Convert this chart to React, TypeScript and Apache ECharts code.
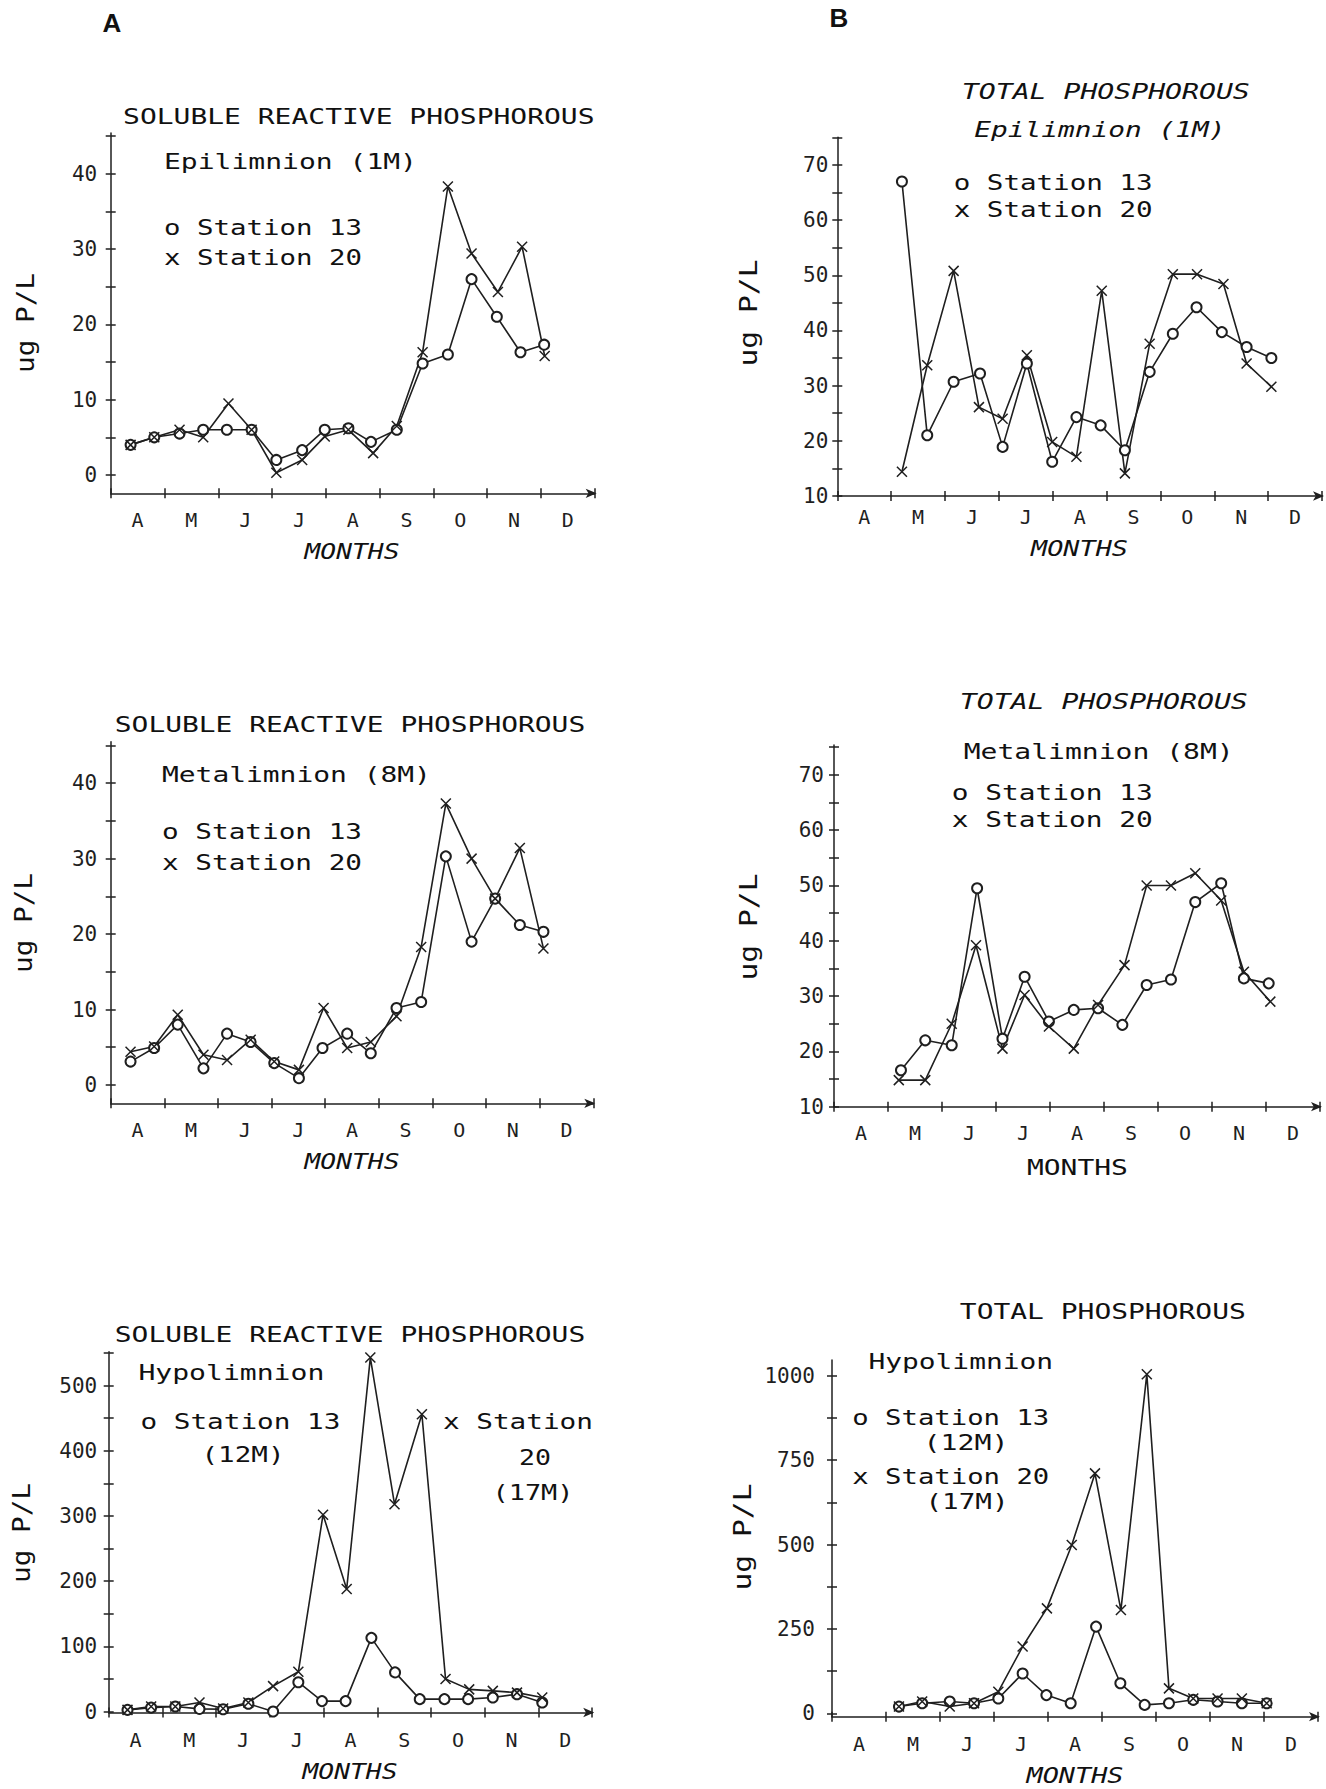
import React, { useEffect, useRef } from 'react';
import * as echarts from 'echarts';

// ---------- categories / ticks ----------
const months = ['A', 'M', 'J', 'J', 'A', 'S', 'O', 'N', 'D'];
const srpMajor = [0, 10, 20, 30, 40];
const srpMinor = [5, 15, 25, 35, 45];
const tpMajor = [10, 20, 30, 40, 50, 60, 70];
const tpMinor = [15, 25, 35, 45, 55, 65, 75];
const srpHypoMajor = [0, 100, 200, 300, 400, 500];
const srpHypoMinor = [50, 150, 250, 350, 450, 550];
const tpHypoMajor = [0, 250, 500, 750, 1000];
const tpHypoMinor = [125, 375, 625, 875];

// ---------- data (x = month position from start of April, y = ug P/L) ----------
// A1: Soluble reactive P, Epilimnion (1M)
const srpEpiX13 = [0.37, 0.81, 1.28, 1.72, 2.16, 2.62, 3.08, 3.56, 3.98, 4.42, 4.84, 5.32, 5.8, 6.27, 6.71, 7.18, 7.62, 8.06];
const srpEpi13 = [4, 5, 5.5, 6, 6, 6, 2, 3.3, 6, 6.2, 4.4, 6, 14.8, 16, 26, 21, 16.3, 17.3];
const srpEpiX20 = [0.37, 0.81, 1.28, 1.72, 2.19, 2.62, 3.08, 3.56, 3.98, 4.42, 4.88, 5.32, 5.8, 6.27, 6.71, 7.2, 7.65, 8.07];
const srpEpi20 = [4, 5, 6, 5, 9.5, 6, 0.3, 2, 5.1, 6, 2.9, 6.5, 16.3, 38.3, 29.4, 24.3, 30.3, 15.8];

// B1: Total P, Epilimnion (1M)
const tpEpiX13 = [1.2, 1.67, 2.16, 2.65, 3.07, 3.52, 3.99, 4.44, 4.89, 5.34, 5.8, 6.23, 6.67, 7.14, 7.6, 8.06];
const tpEpi13 = [67, 21, 30.7, 32.2, 18.9, 34, 16.2, 24.3, 22.8, 18.3, 32.5, 39.4, 44.2, 39.7, 37, 35];
const tpEpiX20 = [1.2, 1.67, 2.16, 2.63, 3.07, 3.52, 3.99, 4.44, 4.91, 5.34, 5.8, 6.23, 6.68, 7.17, 7.6, 8.06];
const tpEpi20 = [14.4, 33.7, 50.8, 26.1, 24, 35.5, 19.8, 17.1, 47.2, 14.1, 37.6, 50.2, 50.2, 48.4, 34, 29.8];

// A2: Soluble reactive P, Metalimnion (8M)
const srpMetX13 = [0.37, 0.81, 1.25, 1.73, 2.17, 2.61, 3.05, 3.51, 3.95, 4.41, 4.85, 5.33, 5.79, 6.25, 6.73, 7.17, 7.63, 8.07];
const srpMet13 = [3.1, 4.9, 8, 2.2, 6.8, 5.7, 2.9, 0.9, 4.9, 6.8, 4.2, 10.2, 11, 30.3, 19, 24.7, 21.2, 20.3];
const srpMetX20 = [0.37, 0.81, 1.25, 1.73, 2.17, 2.61, 3.05, 3.51, 3.97, 4.41, 4.85, 5.33, 5.79, 6.25, 6.73, 7.17, 7.63, 8.07];
const srpMet20 = [4.4, 5.1, 9.3, 4, 3.3, 6, 3.1, 2, 10.2, 4.9, 5.7, 9.1, 18.3, 37.3, 30, 24.7, 31.4, 18.1];

// B2: Total P, Metalimnion (8M)
const tpMetX13 = [1.24, 1.69, 2.18, 2.65, 3.12, 3.53, 3.98, 4.44, 4.89, 5.34, 5.79, 6.24, 6.69, 7.17, 7.59, 8.05];
const tpMet13 = [16.6, 22, 21.1, 49.5, 22.3, 33.5, 25.4, 27.5, 27.8, 24.8, 32, 33, 47, 50.4, 33.2, 32.3];
const tpMetX20 = [1.2, 1.69, 2.18, 2.63, 3.12, 3.53, 3.98, 4.44, 4.89, 5.38, 5.79, 6.24, 6.69, 7.17, 7.59, 8.08];
const tpMet20 = [14.8, 14.8, 25, 39.2, 20.5, 30.2, 24.5, 20.5, 28.4, 35.6, 50, 50, 52.2, 47.3, 34.4, 29];

// A3: Soluble reactive P, Hypolimnion
const srpHypX13 = [0.35, 0.79, 1.24, 1.69, 2.13, 2.6, 3.06, 3.53, 3.97, 4.41, 4.89, 5.33, 5.79, 6.25, 6.69, 7.15, 7.6, 8.07];
const srpHyp13 = [2.5, 6, 7.7, 4, 3.5, 12, 0, 45, 16, 16, 113, 60, 19, 19, 19, 21.5, 26.6, 13.8];
const srpHypX20 = [0.35, 0.79, 1.24, 1.69, 2.13, 2.6, 3.06, 3.53, 3.99, 4.43, 4.87, 5.32, 5.83, 6.27, 6.71, 7.15, 7.6, 8.07];
const srpHyp20 = [2.5, 7.7, 7.7, 13.8, 4.6, 13.8, 39, 61, 302, 188, 543, 318, 456, 50, 34, 31.7, 29, 21.5];

// B3: Total P, Hypolimnion
const tpHypX13 = [1.24, 1.67, 2.18, 2.63, 3.08, 3.53, 3.97, 4.42, 4.89, 5.34, 5.79, 6.24, 6.69, 7.14, 7.59, 8.05];
const tpHyp13 = [20, 30, 35, 30, 44, 118, 54, 30, 257, 89, 25, 30, 40, 35, 30, 30];
const tpHypX20 = [1.24, 1.67, 2.18, 2.63, 3.08, 3.53, 3.98, 4.44, 4.87, 5.35, 5.83, 6.24, 6.69, 7.14, 7.59, 8.05];
const tpHyp20 = [20, 35, 20, 30, 64, 198, 311, 499, 711, 306, 1005, 74, 44, 44, 44, 30];

// ---------- layout (positions / styles) ----------
const INK = '#1f1f1f';
const MONO = "'DejaVu Sans Mono', 'Liberation Mono', monospace";
const MONO_ADV = 0.602; // advance width of DejaVu Sans Mono, in em

type Panel = {
  left: number; top: number; width: number; height: number;
  yMin: number; yMax: number; major: number[]; minor: number[];
  x13: number[]; y13: number[]; x20: number[]; y20: number[];
  yMargin: number; xMargin: number;
};

const panels: Panel[] = [
  { left: 110.7, top: 133, width: 484, height: 360.3, yMin: -2.43, yMax: 45.4, major: srpMajor, minor: srpMinor,
    x13: srpEpiX13, y13: srpEpi13, x20: srpEpiX20, y20: srpEpi20, yMargin: 13.5, xMargin: 17 },
  { left: 837.3, top: 137.3, width: 484.7, height: 358.7, yMin: 10, yMax: 75, major: tpMajor, minor: tpMinor,
    x13: tpEpiX13, y13: tpEpi13, x20: tpEpiX20, y20: tpEpi20, yMargin: 9, xMargin: 11 },
  { left: 110.7, top: 741.7, width: 482.6, height: 361.6, yMin: -2.43, yMax: 45.5, major: srpMajor, minor: srpMinor,
    x13: srpMetX13, y13: srpMet13, x20: srpMetX20, y20: srpMet20, yMargin: 13.5, xMargin: 17 },
  { left: 834, top: 745, width: 486, height: 361.7, yMin: 10, yMax: 75.4, major: tpMajor, minor: tpMinor,
    x13: tpMetX13, y13: tpMet13, x20: tpMetX20, y20: tpMet20, yMargin: 10, xMargin: 16 },
  { left: 108.7, top: 1351.7, width: 483.5, height: 360.8, yMin: -1.5, yMax: 552, major: srpHypoMajor, minor: srpHypoMinor,
    x13: srpHypX13, y13: srpHyp13, x20: srpHypX20, y20: srpHyp20, yMargin: 11.5, xMargin: 17 },
  { left: 832, top: 1360, width: 486, height: 356.7, yMin: -10, yMax: 1047, major: tpHypoMajor, minor: tpHypoMinor,
    x13: tpHypX13, y13: tpHyp13, x20: tpHypX20, y20: tpHyp20, yMargin: 17, xMargin: 17 },
];

type Txt = { x: number; y: number; t: string; size: number; w?: number; align?: string; italic?: boolean; rot?: boolean; bold?: boolean; family?: string };

const SANS = "'Liberation Sans', Arial, sans-serif";
const texts: Txt[] = [
  { x: 112, y: 23, t: 'A', size: 26, align: 'center', bold: true, family: SANS },
  { x: 839, y: 18, t: 'B', size: 26, align: 'center', bold: true, family: SANS },
  // A1
  { x: 358.8, y: 117, t: 'SOLUBLE REACTIVE PHOSPHOROUS', size: 21.5, w: 472, align: 'center' },
  { x: 164, y: 162, t: 'Epilimnion (1M)', size: 21.5, w: 253 },
  { x: 164, y: 228, t: 'o Station 13', size: 21.5, w: 198 },
  { x: 164, y: 258, t: 'x Station 20', size: 21.5, w: 198 },
  { x: 25.7, y: 323, t: 'ug P/L', size: 25, w: 100, align: 'center', rot: true },
  { x: 352, y: 552, t: 'MONTHS', size: 21.5, w: 95, align: 'center', italic: true },
  // B1
  { x: 1105.8, y: 92, t: 'TOTAL PHOSPHOROUS', size: 21.5, w: 288, align: 'center', italic: true },
  { x: 1099.8, y: 130, t: 'Epilimnion (1M)', size: 21.5, w: 251.5, align: 'center', italic: true },
  { x: 953.7, y: 183, t: 'o Station 13', size: 21.5, w: 199 },
  { x: 953.7, y: 210, t: 'x Station 20', size: 21.5, w: 199 },
  { x: 748.8, y: 313, t: 'ug P/L', size: 25, w: 107, align: 'center', rot: true },
  { x: 1079.5, y: 548, t: 'MONTHS', size: 21.5, w: 97, align: 'center', italic: true },
  // A2
  { x: 350, y: 725, t: 'SOLUBLE REACTIVE PHOSPHOROUS', size: 21.5, w: 470.5, align: 'center' },
  { x: 162, y: 775, t: 'Metalimnion (8M)', size: 21.5, w: 269 },
  { x: 162, y: 832, t: 'o Station 13', size: 21.5, w: 200 },
  { x: 162, y: 863, t: 'x Station 20', size: 21.5, w: 200 },
  { x: 23.7, y: 923, t: 'ug P/L', size: 25, w: 100, align: 'center', rot: true },
  { x: 352, y: 1162, t: 'MONTHS', size: 21.5, w: 95, align: 'center', italic: true },
  // B2
  { x: 1103.8, y: 702, t: 'TOTAL PHOSPHOROUS', size: 21.5, w: 288, align: 'center', italic: true },
  { x: 1098.7, y: 752, t: 'Metalimnion (8M)', size: 21.5, w: 270, align: 'center' },
  { x: 951.7, y: 793, t: 'o Station 13', size: 21.5, w: 201 },
  { x: 951.7, y: 820, t: 'x Station 20', size: 21.5, w: 201 },
  { x: 748.8, y: 927, t: 'ug P/L', size: 25, w: 107, align: 'center', rot: true },
  { x: 1077.4, y: 1168, t: 'MONTHS', size: 21.5, w: 101, align: 'center' },
  // A3
  { x: 350, y: 1335, t: 'SOLUBLE REACTIVE PHOSPHOROUS', size: 21.5, w: 470.5, align: 'center' },
  { x: 138.4, y: 1373, t: 'Hypolimnion', size: 21.5, w: 186 },
  { x: 140.4, y: 1422, t: 'o Station 13', size: 21.5, w: 200 },
  { x: 243, y: 1455, t: '(12M)', size: 21.5, w: 83, align: 'center' },
  { x: 442.9, y: 1422, t: 'x Station', size: 21.5, w: 150 },
  { x: 535, y: 1458, t: '20', size: 21.5, w: 32, align: 'center' },
  { x: 533, y: 1492, t: '(17M)', size: 21.5, w: 81, align: 'center' },
  { x: 21.7, y: 1533, t: 'ug P/L', size: 25, w: 100, align: 'center', rot: true },
  { x: 350, y: 1772, t: 'MONTHS', size: 21.5, w: 95, align: 'center', italic: true },
  // B3
  { x: 1102.8, y: 1312, t: 'TOTAL PHOSPHOROUS', size: 21.5, w: 286, align: 'center' },
  { x: 868.5, y: 1362, t: 'Hypolimnion', size: 21.5, w: 184.6 },
  { x: 852.3, y: 1418, t: 'o Station 13', size: 21.5, w: 197 },
  { x: 966, y: 1443, t: '(12M)', size: 21.5, w: 85, align: 'center' },
  { x: 852.3, y: 1477, t: 'x Station 20', size: 21.5, w: 197 },
  { x: 967, y: 1502, t: '(17M)', size: 21.5, w: 83, align: 'center' },
  { x: 742.7, y: 1537, t: 'ug P/L', size: 25, w: 107, align: 'center', rot: true },
  { x: 1075, y: 1775, t: 'MONTHS', size: 21.5, w: 97, align: 'center', italic: true },
];

function buildOption() {
  const grid: any[] = [];
  const xAxis: any[] = [];
  const yAxis: any[] = [];
  const series: any[] = [];
  const lineStyle = { color: INK, width: 1.5 };

  panels.forEach((p, i) => {
    grid.push({ left: p.left, top: p.top, width: p.width, height: p.height });
    // value axis for data (inside ticks + arrow line)
    xAxis.push({
      type: 'value', gridIndex: i, min: 0, max: 9, interval: 1, position: 'bottom',
      axisLine: { show: true, onZero: false, symbol: ['none', 'arrow'], symbolSize: [7, 11], symbolOffset: [0, 2], lineStyle },
      axisTick: { show: true, inside: true, length: 5, lineStyle },
      axisLabel: { show: false }, splitLine: { show: false },
    });
    // category axis for month labels (outside ticks)
    xAxis.push({
      type: 'category', gridIndex: i, data: months, boundaryGap: true, position: 'bottom',
      axisLine: { show: false, onZero: false },
      axisTick: { show: true, length: 5, lineStyle },
      axisLabel: { color: INK, fontFamily: MONO, fontSize: 20, margin: p.xMargin },
      splitLine: { show: false },
    });
    const allTicks = [...p.major, ...p.minor].filter((v) => v <= p.yMax && v >= p.yMin);
    yAxis.push({
      type: 'value', gridIndex: i, min: p.yMin, max: p.yMax, position: 'left',
      axisLine: { show: true, onZero: false, lineStyle },
      axisTick: { show: true, length: 5, customValues: allTicks, lineStyle },
      axisLabel: { show: true, customValues: p.major, formatter: (v: number) => String(v), color: INK, fontFamily: MONO, fontSize: 21, margin: p.yMargin },
      splitLine: { show: false },
    });
    yAxis.push({
      type: 'value', gridIndex: i, min: p.yMin, max: p.yMax, position: 'left',
      axisLine: { show: false, onZero: false },
      axisTick: { show: true, inside: true, length: 5, customValues: allTicks, lineStyle },
      axisLabel: { show: false }, splitLine: { show: false },
    });
    series.push({
      type: 'line', name: 'Station 13', xAxisIndex: 2 * i, yAxisIndex: 2 * i,
      data: p.x13.map((x, k) => [x, p.y13[k]]),
      symbol: 'emptyCircle', symbolSize: 10,
      itemStyle: { color: INK, borderColor: INK, borderWidth: 1.5 },
      lineStyle: { color: INK, width: 1.6 },
    });
    series.push({
      type: 'line', name: 'Station 20', xAxisIndex: 2 * i, yAxisIndex: 2 * i,
      data: p.x20.map((x, k) => [x, p.y20[k]]),
      symbol: 'path://M0 0L10 10M10 0L0 10', symbolSize: 10,
      itemStyle: { color: 'rgba(0,0,0,0)', borderColor: INK, borderWidth: 1.5 },
      lineStyle: { color: INK, width: 1.6 },
    });
  });

  const graphic = texts.map((t) => {
    const natural = t.t.length * MONO_ADV * t.size;
    const sx = t.w ? t.w / natural : 1;
    return {
      type: 'text',
      x: t.x, y: t.y,
      rotation: t.rot ? Math.PI / 2 : 0,
      scaleX: sx,
      style: {
        text: t.t,
        fill: '#111',
        font: `${t.italic ? 'italic ' : ''}${t.bold ? 'bold ' : ''}${t.size}px ${t.family || MONO}`,
        align: t.align || 'left',
        verticalAlign: 'middle',
      },
    };
  });

  return {
    animation: false,
    backgroundColor: '#ffffff',
    grid, xAxis, yAxis, series, graphic,
  };
}

export default function App() {
  const ref = useRef<HTMLDivElement>(null);
  useEffect(() => {
    if (!ref.current) return;
    const chart = echarts.init(ref.current, null, { renderer: 'svg' });
    chart.setOption(buildOption() as any);
    return () => chart.dispose();
  }, []);
  return (
    <div
      ref={ref}
      style={{ position: 'absolute', left: 0, top: 0, width: 1326, height: 1789, background: '#fff' }}
    />
  );
}
